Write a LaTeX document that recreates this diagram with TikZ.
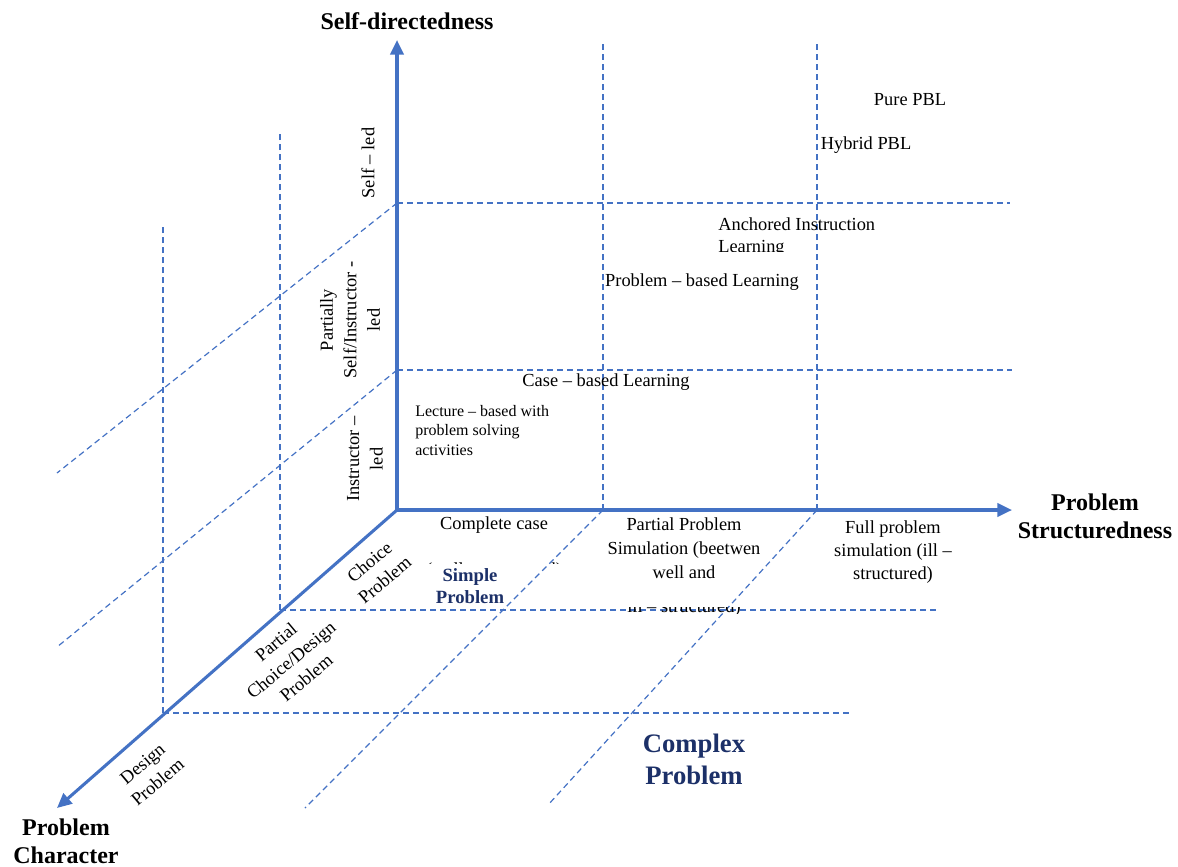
\documentclass[tikz,border=0pt]{standalone}
\usepackage{fontspec}
\setmainfont{Liberation Serif}
\usetikzlibrary{arrows.meta}
\definecolor{axisblue}{RGB}{68,114,196}
\definecolor{navy}{RGB}{28,48,104}
\begin{document}
\begin{tikzpicture}[x=0.75pt,y=-0.75pt,
  axis/.style={draw=axisblue, line width=2.3pt, -{Triangle[length=11pt,width=10pt]}},
  gridline/.style={draw=axisblue, line width=0.9pt, dash pattern=on 4.5pt off 3pt},
  lbl/.style={font=\fontsize{13.8}{17.6}\selectfont, align=center, inner sep=0pt},
  small/.style={font=\fontsize{12}{15}\selectfont, align=left, inner sep=0pt},
  axlbl/.style={font=\fontsize{18}{21}\selectfont\bfseries, align=center, inner sep=0pt},
  simple/.style={font=\fontsize{14}{16.5}\selectfont\bfseries, text=navy, align=center, inner sep=0pt},
  complex/.style={font=\fontsize{20}{24}\selectfont\bfseries, text=navy, align=center, inner sep=0pt},
  rlbl/.style={lbl, rotate=40}]
\useasboundingbox (0,0) rectangle (1178,867);
% key points
\coordinate (O) at (397,510);
\coordinate (Ytip) at (397,40);
\coordinate (Xtip) at (1012,510);
\coordinate (Ztip) at (57,808);
\coordinate (A1) at (397,370);
\coordinate (A2) at (397,203);
\coordinate (B1) at (603,510);
\coordinate (B2) at (817,510);
\coordinate (P1) at (280,610);
\coordinate (P2) at (163,713);
% free ends of dashed lines
\coordinate (A2l) at (57,473);
\coordinate (A1l) at (57,647);
\coordinate (A2r) at (1010,203);
\coordinate (A1r) at (1012,370);
\coordinate (B1t) at (603,40);
\coordinate (B2t) at (817,40);
\coordinate (B1d) at (305,808);
\coordinate (B2d) at (548,805);
\coordinate (P1t) at (280,130);
\coordinate (P2t) at (163,225);
\coordinate (P1r) at (937,610);
\coordinate (P2r) at (852,713);
% dashed grid
\draw[gridline] (A2) -- (A2l);
\draw[gridline] (A1) -- (A1l);
\draw[gridline] (A2) -- (A2r);
\draw[gridline] (A1) -- (A1r);
\draw[gridline] (B1) -- (B1t);
\draw[gridline] (B2) -- (B2t);
\draw[gridline] (B1) -- (B1d);
\draw[gridline] (B2) -- (B2d);
\draw[gridline] (P1) -- (P1t);
\draw[gridline] (P2) -- (P2t);
\draw[gridline] (P1) -- (P1r);
\draw[gridline] (P2) -- (P2r);
% axes
\draw[axis] (O) -- (Ytip);
\draw[axis] (O) -- (Xtip);
\draw[axis] (O) -- (Ztip);
% axis labels
\node[axlbl] (ly) at (407,21) {Self-directedness};
\node[axlbl] (lx) at (1095,516) {Problem\\Structuredness};
\node[axlbl] (lz) at (66,841) {Problem\\Character};
% vertical axis levels
\node[lbl, rotate=90] (selfled) at (368,163) {Self -- led};
\node[lbl, rotate=90] (partled) at (350,320) {Partially\\Self/Instructor -\\led};
\node[lbl, rotate=90] (instled) at (365,459) {Instructor --\\led};
% depth axis levels
\node[rlbl] (choice) at (377,571) {Choice\\Problem};
\node[rlbl] (pchoice) at (291,660) {Partial\\Choice/Design\\Problem};
\node[rlbl] (design) at (150,773) {Design\\Problem};
% methods
\node[lbl] (pure) at (910,100) {Pure PBL};
\node[lbl] (hybrid) at (866,145) {Hybrid PBL};
\node[lbl, anchor=west] (anch) at (718,224) {Anchored Instruction};
\begin{scope}
  \clip (700,238) rectangle (900,251);
  \node[lbl, anchor=west] (anch2) at (718,248) {Learning};
\end{scope}
\node[lbl] (pbl) at (702,282) {Problem -- based Learning};
\node[lbl] (cbl) at (606,382) {Case -- based Learning};
\node[small, anchor=north west] (lect) at (415,405) {Lecture -- based with\\[-0.5pt]problem solving\\[-0.5pt]activities};
% structuredness levels
\node[lbl] (complete) at (494,525) {Complete case};
\begin{scope}
  \clip (400,558) rectangle (600,563.5);
  \node[lbl] (wellstr) at (494,571) {(well -- structured)};
\end{scope}
\node[lbl, anchor=north] (partial) at (684,517) {Partial Problem\\[0.5pt]Simulation (beetwen\\[0.5pt]well and};
\begin{scope}
  \clip (600,607) rectangle (780,613.5);
  \node[lbl] (illstr) at (684,608) {ill -- structured)};
\end{scope}
\node[lbl, anchor=north] (full) at (893,520) {Full problem\\[0pt]simulation (ill --\\[0pt]structured)};
\node[simple] (simp) at (470,586) {Simple\\Problem};
\node[complex] (comp) at (694,759) {Complex\\Problem};
\end{tikzpicture}
\end{document}
